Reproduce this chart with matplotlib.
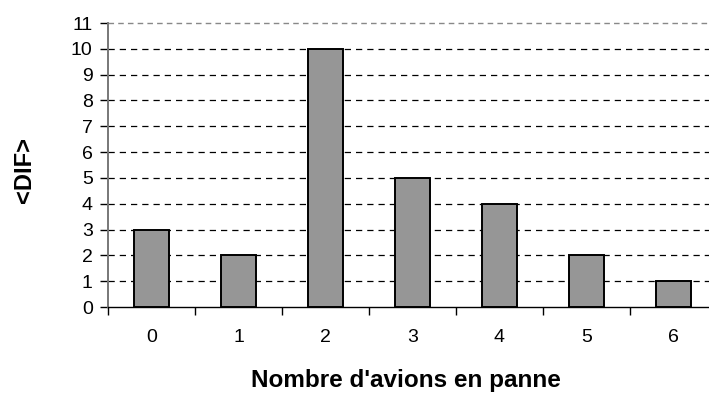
import matplotlib
matplotlib.use("Agg")
import matplotlib.pyplot as plt
import numpy as np

# data
categories = ["0", "1", "2", "3", "4", "5", "6"]
counts = [3, 2, 10, 5, 4, 2, 1]
yticks = list(range(0, 12))

plt.rcParams['font.family'] = ['Liberation Sans', 'DejaVu Sans']

fig = plt.figure(figsize=(7.09, 4.12), dpi=100)
# plot area runs slightly past the right edge of the picture
ax = fig.add_axes([108/709, 105/412, 609/709, 284/412])

x = np.arange(len(categories))
ax.bar(x, counts, width=0.41, color="#969696", edgecolor="black", linewidth=1.4, zorder=3)

ax.set_xlim(-0.5, len(categories) - 0.5)
ax.set_ylim(0, 11)

# grid lines (dashed)
for v in yticks[1:-1]:
    ax.axhline(v, color="black", linestyle=(0, (5, 4)), linewidth=0.9, zorder=1)
ax.axhline(11, color="#888888", linestyle=(0, (4, 3)), linewidth=1.0, zorder=1, clip_on=False)

ax.spines['top'].set_visible(False)
ax.spines['right'].set_visible(False)
ax.spines['left'].set_color("#777777")
ax.spines['left'].set_linestyle((0, (3, 1)))
ax.spines['left'].set_linewidth(1.4)
ax.spines['bottom'].set_color("black")
ax.spines['bottom'].set_linewidth(1.0)

ax.set_yticks(yticks)
ax.set_yticklabels([str(v) for v in yticks], fontsize=14)
ax.tick_params(axis='y', direction='out', length=6, width=1, color="black", pad=5)

# category labels at centers, tick marks at boundaries
ax.set_xticks(x)
ax.set_xticklabels(categories, fontsize=14)
ax.tick_params(axis='x', which='major', length=0, pad=16)
ax.set_xticks(np.arange(-0.5, len(categories) + 0.5, 1), minor=True)
ax.tick_params(axis='x', which='minor', direction='out', length=6, width=1, color="black")

fig.text(406/709, 1 - 381/412, "Nombre d'avions en panne", ha='center', va='center',
         fontsize=17.5, fontweight='bold')
fig.text(24/709, 1 - 170/412, "<DIF>", ha='center', va='center', rotation=90,
         fontsize=17, fontweight='bold')

fig.savefig("out.png", dpi=100)
